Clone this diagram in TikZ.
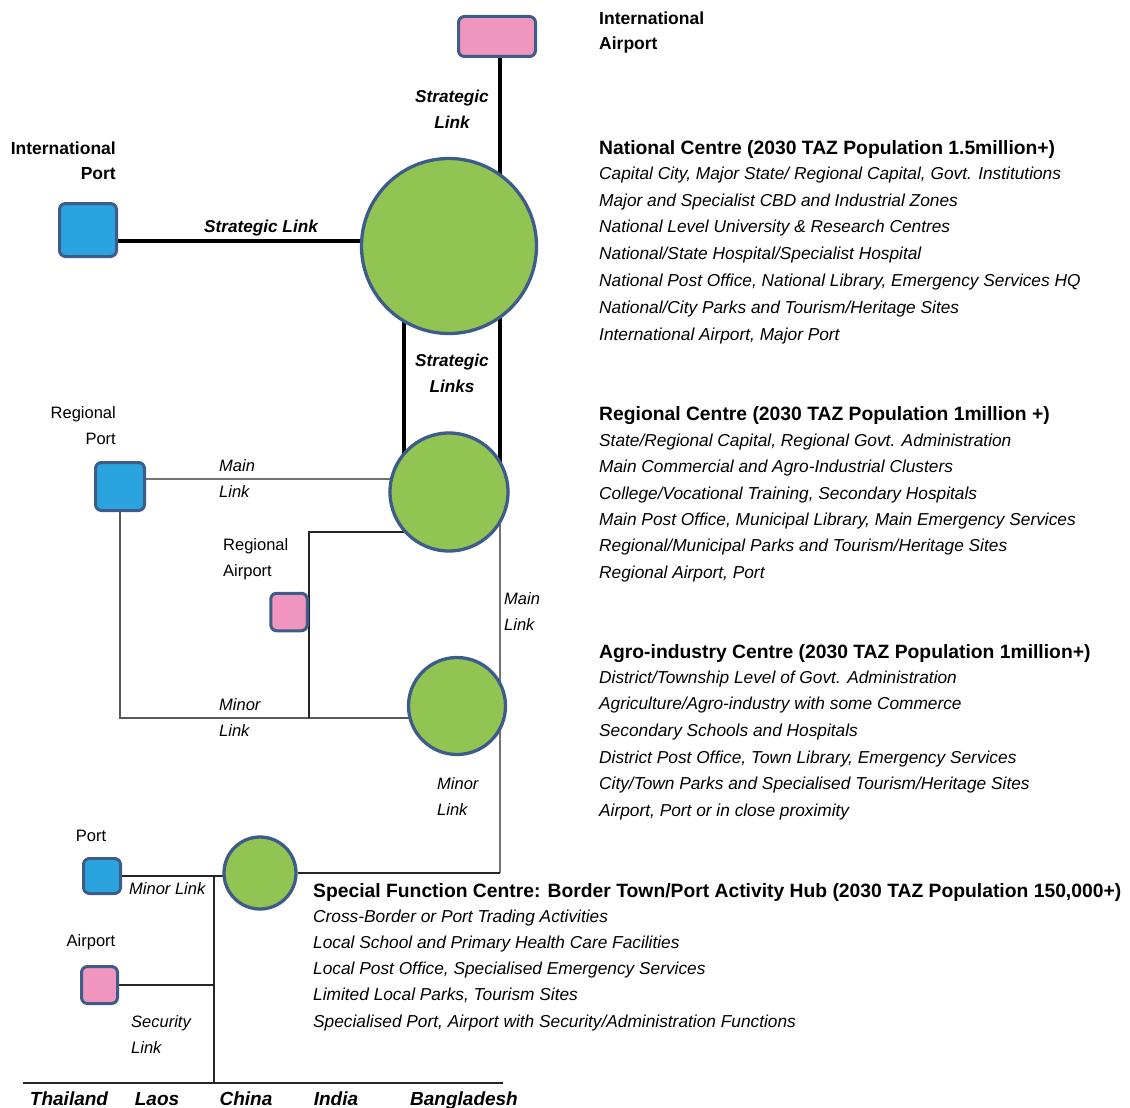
\documentclass[tikz,border=0pt]{standalone}
\usepackage{fontspec}
\setmainfont{Liberation Sans}
\usetikzlibrary{backgrounds}
\definecolor{hubgreen}{RGB}{146,196,84}
\definecolor{hubedge}{RGB}{62,92,138}
\definecolor{portblue}{RGB}{42,163,222}
\definecolor{airpink}{RGB}{240,150,190}
\definecolor{linkgray}{RGB}{115,115,115}

\begin{document}
\begin{tikzpicture}[x=1pt,y=-1pt,
		hub/.style={circle,draw=hubedge,fill=hubgreen,line width=3.3pt,inner sep=0pt},
		portbox/.style={rectangle,rounded corners=6pt,draw=hubedge,fill=portblue,line width=3pt,inner sep=0pt},
		airbox/.style={portbox,fill=airpink},
		strategic/.style={line width=3.5pt,black},
		mainlink/.style={line width=1.3pt,linkgray},
		minorlink/.style={line width=1.8pt,black!85},
		minorgray/.style={line width=1.6pt,black!65},
		lbl/.style={font=\fontsize{16.5}{26}\selectfont,inner sep=0pt},
		ilbl/.style={font=\fontsize{16.5}{26}\selectfont\itshape,inner sep=0pt},
		blbl/.style={font=\fontsize{17.5}{25}\selectfont\bfseries,inner sep=0pt},
		bilbl/.style={font=\fontsize{17.2}{26}\selectfont\bfseries\itshape,inner sep=0pt},
		country/.style={font=\fontsize{19}{22}\selectfont\bfseries\itshape,inner sep=0pt,text height=13.6pt,text depth=0pt},
		head/.style={font=\fontsize{19.3}{24}\selectfont\bfseries,anchor=west,inner sep=0pt,text height=13.8pt,text depth=0pt},
		item/.style={font=\fontsize{17.3}{24}\selectfont\itshape,anchor=west,inner sep=0pt,text height=12.4pt,text depth=0pt}]
	\useasboundingbox (0,0) rectangle (1130,1108);

	\node[hub,minimum size=175] (nat) at (449,246) {};
	\node[hub,minimum size=118] (reg) at (449,492) {};
	\node[hub,minimum size=97] (agro) at (457,706) {};
	\node[hub,minimum size=72] (sf) at (260,873) {};

	\node[airbox,minimum width=77,minimum height=40] (iair) at (497,36.5) {};
	\node[portbox,minimum width=57,minimum height=53] (iport) at (88,230) {};
	\node[portbox,minimum width=49,minimum height=48] (rport) at (120,486.5) {};
	\node[airbox,minimum width=36.5,minimum height=37.5] (rair) at (289,612) {};
	\node[portbox,minimum width=37,minimum height=35] (port) at (102,876) {};
	\node[airbox,minimum width=36,minimum height=37] (air) at (99.5,985) {};

	\coordinate (sx) at (500,0);
	\coordinate (lx) at (404,0);
	\coordinate (jx) at (214,1083);
	\coordinate (bl) at (23,1083);
	\coordinate (br) at (503,1083);
	\coordinate (ipl) at ([yshift=-11pt]iport.east);
	\coordinate (rpl) at ([yshift=7.5pt]rport.east);
	\coordinate (ml) at ([yshift=-12pt]agro.center);
	\coordinate (ral) at ([yshift=-40pt]reg.center);

	\begin{scope}[on background layer]
		\draw[strategic] (iair.south -| sx) -- (nat -| sx);
		\draw[strategic] (ipl) -- (ipl -| nat);
		\draw[strategic] (nat -| lx) -- (reg -| lx);
		\draw[strategic] (nat -| sx) -- (reg -| sx);
		\draw[mainlink] (rpl) -- (rpl -| reg);
		\draw[minorgray] (rport.south) |- (ml);
		\draw[minorlink] (ral) -| (rair.east |- ml);
		\draw[mainlink] (reg -| sx) -- (sf -| sx);
		\draw[minorlink] (sf -| sx) -- (sf);
		\draw[minorlink] (port.east) -- (port.east -| sf);
		\draw[minorlink] (port.east -| jx) -- (jx);
		\draw[minorlink] (air.east) -- (air.east -| jx);
		\draw[minorlink] (bl) -- (br);
	\end{scope}

	\node[bilbl,align=center] (sl1) at (452,109) {Strategic\\Link};
	\node[bilbl] (sl2) at (261,228) {Strategic Link};
	\node[bilbl,align=center] (sl3) at (452,373) {Strategic\\Links};
	\node[blbl,align=right,anchor=east] (iportlbl) at (116,161) {International\\Port};
	\node[blbl,align=left,anchor=west] (iairlbl) at (599,32.5) {International\\Airport};
	\node[lbl,align=right,anchor=east] (rportlbl) at (116,426) {Regional\\Port};
	\node[ilbl,align=left,anchor=west] (ml1) at (219,479) {Main\\Link};
	\node[lbl,align=left,anchor=west] (rairlbl) at (223,559) {Regional\\Airport};
	\node[ilbl,align=left,anchor=west] (ml2) at (504,611.5) {Main\\Link};
	\node[ilbl,align=left,anchor=west] (mn1) at (219,718) {Minor\\Link};
	\node[ilbl,align=left,anchor=west] (mn2) at (437,797) {Minor\\Link};
	\node[lbl] (portlbl) at (91,836) {Port};
	\node[lbl] (airlbl) at (91,942) {Airport};
	\node[ilbl,anchor=west] (mn3) at (129,889) {Minor Link};
	\node[ilbl,align=left,anchor=west] (seclbl) at (131,1035) {Security\\Link};
	\foreach \c/\x in {Thailand/69,Laos/157,China/246,India/336,Bangladesh/464}
		\node[country] (\c) at (\x,1099) {\c};

	\node[head] (nathead) at (599,148) {National Centre (2030 TAZ Population 1.5million+)};
	\foreach \t [count=\i from 0] in {{Capital City, Major State/ Regional Capital, Govt. Institutions},
		{Major and Specialist CBD and Industrial Zones},
		{National Level University \& Research Centres},
		{National/State Hospital/Specialist Hospital},
		{National Post Office, National Library, Emergency Services HQ},
		{National/City Parks and Tourism/Heritage Sites},
		{International Airport, Major Port}}
		\node[item] (natitem\i) at (599,173+26.8*\i) {\t};

	\node[head] (reghead) at (599,414) {Regional Centre (2030 TAZ Population 1million +)};
	\foreach \t [count=\i from 0] in {{State/Regional Capital, Regional Govt. Administration},
		{Main Commercial and Agro-Industrial Clusters},
		{College/Vocational Training, Secondary Hospitals},
		{Main Post Office, Municipal Library, Main Emergency Services},
		{Regional/Municipal Parks and Tourism/Heritage Sites},
		{Regional Airport, Port}}
		\node[item] (regitem\i) at (599,440+26.4*\i) {\t};

	\node[head] (agrohead) at (599,652) {Agro-industry Centre (2030 TAZ Population 1million+)};
	\foreach \t [count=\i from 0] in {{District/Township Level of Govt. Administration},
		{Agriculture/Agro-industry with some Commerce},
		{Secondary Schools and Hospitals},
		{District Post Office, Town Library, Emergency Services},
		{City/Town Parks and Specialised Tourism/Heritage Sites},
		{Airport, Port or in close proximity}}
		\node[item] (agroitem\i) at (599,677+26.6*\i) {\t};

	\node[head] (sfhead) at (313,891) {Special Function Centre: Border Town/Port Activity Hub (2030 TAZ Population 150,000+)};
	\foreach \t [count=\i from 0] in {{Cross-Border or Port Trading Activities},
		{Local School and Primary Health Care Facilities},
		{Local Post Office, Specialised Emergency Services},
		{Limited Local Parks, Tourism Sites},
		{Specialised Port, Airport with Security/Administration Functions}}
		\node[item] (sfitem\i) at (313,916+26.2*\i) {\t};
\end{tikzpicture}
\end{document}
